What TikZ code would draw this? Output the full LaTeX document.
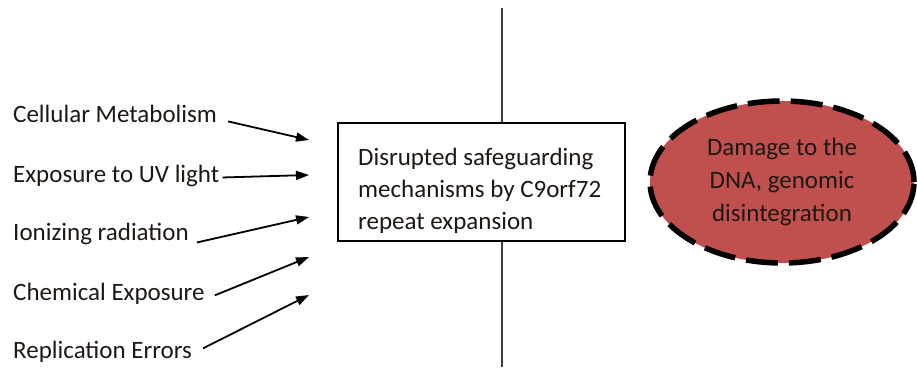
\documentclass[tikz,border=0pt]{standalone}
\usepackage{fontspec}
\setmainfont{Carlito}
\usetikzlibrary{shapes.geometric,arrows.meta}
\definecolor{dnared}{RGB}{192,80,77}
\definecolor{txt}{RGB}{30,24,20}
\definecolor{divider}{RGB}{60,60,60}
\begin{document}
\begin{tikzpicture}[x=1pt,y=-1pt,
  lbl/.style={anchor=base west,inner sep=0pt,text=txt,font=\fontsize{25}{32}\selectfont},
  cause/.style={line width=1.8pt,-{Triangle[length=13pt,width=9pt]}},
  mech/.style={draw=black,line width=1.5pt,fill=white,minimum width=287pt,minimum height=118pt,inner sep=0pt},
  dmg/.style={ellipse,draw=black,fill=dnared,line width=5.5pt,dash pattern=on 32pt off 11pt,
    minimum width=264pt,minimum height=162pt,inner sep=0pt,align=center,text=txt,
    font=\fontsize{25}{33}\selectfont}]
\useasboundingbox (0,0) rectangle (917,367);
% divider line
\coordinate (top) at (502,8);
\coordinate (bot) at (502,367);
\node[mech] (box) at (481.5,182) {};
\draw[divider,line width=1.3pt] (top) -- (box.north -| top);
\draw[divider,line width=1.3pt] (box.south -| bot) -- (bot);
\node[lbl,anchor=north west,align=left,font=\fontsize{25}{32}\selectfont] (boxtext) at (358,148)
  {Disrupted safeguarding\\mechanisms by C9orf72\\repeat expansion};
% causes
\node[lbl] (t1) at (13,122) {Cellular Metabolism};
\node[lbl] (t2) at (13,182) {Exposure to UV light};
\node[lbl] (t3) at (13,240) {Ionizing radiation};
\node[lbl] (t4) at (13,300) {Chemical Exposure};
\node[lbl] (t5) at (13,358) {Replication Errors};
\coordinate (e1) at (309,140);
\coordinate (e2) at (309,175);
\coordinate (e3) at (309,217);
\coordinate (e4) at (309,257);
\coordinate (e5) at (309,295);
\draw[cause] ([shift={(11,8)}]t1.east) -- (e1);
\draw[cause] ([shift={(3,2)}]t2.east) -- (e2);
\draw[cause] ([shift={(8,9)}]t3.east) -- (e3);
\draw[cause] ([shift={(10,2)}]t4.east) -- (e4);
\draw[cause] ([shift={(11,-3)}]t5.east) -- (e5);
% damage ellipse
\node[dmg] (dna) at (782,182) {Damage to the\\DNA, genomic\\disintegration};
\end{tikzpicture}
\end{document}
